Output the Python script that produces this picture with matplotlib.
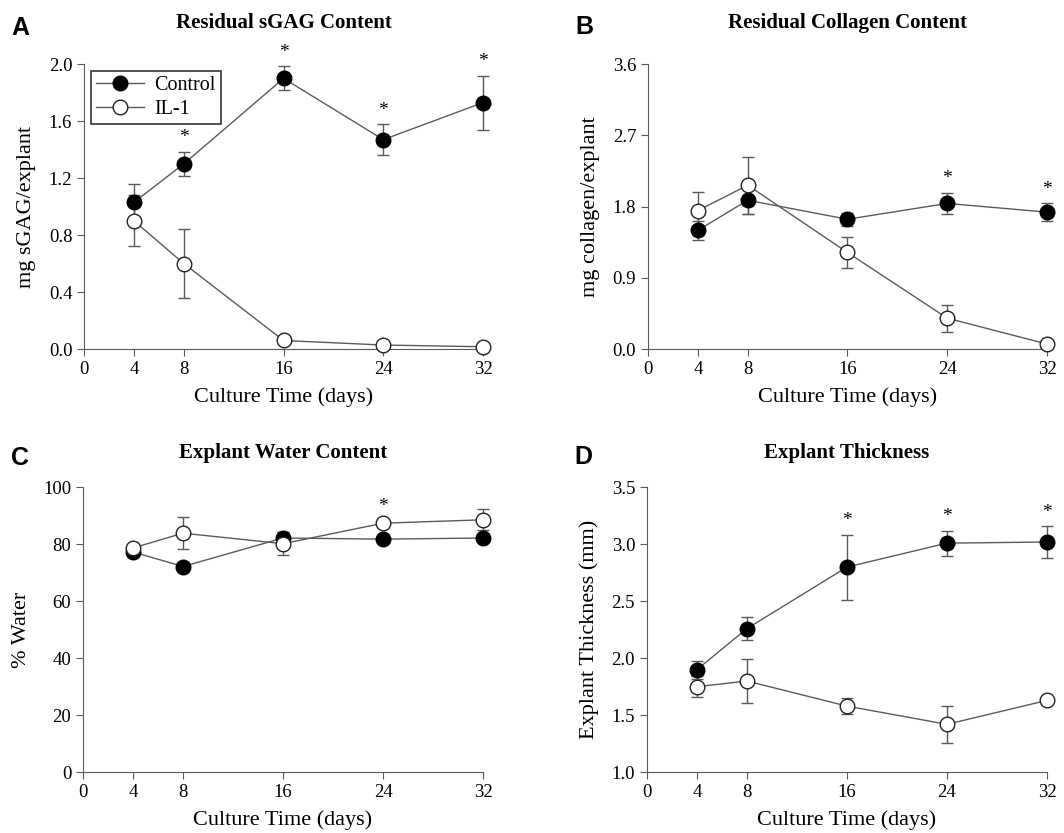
import numpy as np
import matplotlib.pyplot as plt

plt.rcParams['font.family'] = ['Liberation Serif', 'DejaVu Serif']

days = [4, 8, 16, 24, 32]

# A: residual sGAG (mg/explant)
sgag_ctl = [1.03, 1.30, 1.90, 1.47, 1.73]
sgag_ctl_err = [0.13, 0.085, 0.085, 0.11, 0.19]
sgag_il1 = [0.90, 0.60, 0.06, 0.028, 0.016]
sgag_il1_err = [0.18, 0.24, 0.01, 0.005, 0.005]
sgag_star = [8, 16, 24, 32]

# B: residual collagen (mg/explant)
coll_ctl = [1.50, 1.88, 1.64, 1.84, 1.73]
coll_ctl_err = [0.12, 0.18, 0.08, 0.135, 0.11]
coll_il1 = [1.75, 2.07, 1.22, 0.39, 0.063]
coll_il1_err = [0.24, 0.36, 0.20, 0.17, 0.01]
coll_star = [24, 32]

# C: water content (%)
water_ctl = [77.3, 72.2, 82.2, 81.8, 82.2]
water_ctl_err = [1.0, 1.5, 2.0, 1.0, 1.0]
water_il1 = [78.7, 83.9, 80.2, 87.4, 88.6]
water_il1_err = [1.0, 5.6, 4.0, 1.0, 3.7]
water_star = [24]

# D: thickness (mm)
thick_ctl = [1.90, 2.26, 2.80, 3.01, 3.02]
thick_ctl_err = [0.08, 0.10, 0.285, 0.11, 0.14]
thick_il1 = [1.75, 1.80, 1.58, 1.42, 1.63]
thick_il1_err = [0.09, 0.19, 0.07, 0.165, 0.01]
thick_star = [16, 24, 32]

panels = [
    ('A', 'Residual sGAG Content', 'mg sGAG/explant', sgag_ctl, sgag_ctl_err,
     sgag_il1, sgag_il1_err, sgag_star, (0, 2.0), [0, 0.4, 0.8, 1.2, 1.6, 2.0], '%.1f',
     [0.079, 0.581, 0.375, 0.342], 0.972, 0.966),
    ('B', 'Residual Collagen Content', 'mg collagen/explant', coll_ctl, coll_ctl_err,
     coll_il1, coll_il1_err, coll_star, (0, 3.6), [0, 0.9, 1.8, 2.7, 3.6], '%.1f',
     [0.609, 0.581, 0.375, 0.342], 0.972, 0.967),
    ('C', 'Explant Water Content', '% Water', water_ctl, water_ctl_err,
     water_il1, water_il1_err, water_star, (0, 100), [0, 20, 40, 60, 80, 100], '%d',
     [0.078, 0.073, 0.376, 0.342], 0.456, 0.450),
    ('D', 'Explant Thickness', 'Explant Thickness (mm)', thick_ctl, thick_ctl_err,
     thick_il1, thick_il1_err, thick_star, (1.0, 3.5), [1.0, 1.5, 2.0, 2.5, 3.0, 3.5], '%.1f',
     [0.608, 0.073, 0.376, 0.342], 0.456, 0.451),
]

fig = plt.figure(figsize=(10.64, 8.33), dpi=100)
line_c = '#5a5a5a'

for letter, title, ylab, ctl, ctl_e, il, il_e, stars, ylim, yt, fmt, pos, ty, ly in panels:
    ax = fig.add_axes(pos)
    for y, e in [(ctl, ctl_e), (il, il_e)]:
        eb = ax.errorbar(days, y, yerr=e, fmt='none', ecolor=line_c, elinewidth=1,
                         capsize=4, capthick=1, zorder=2)
        for art in eb.get_children():
            art.set_clip_on(False)
    ax.plot(days, ctl, color=line_c, lw=1, marker='o', ms=10.5, mfc='black',
            mec='black', label='Control', zorder=3, clip_on=False)
    ax.plot(days, il, color=line_c, lw=1, marker='o', ms=10.5, mfc='white',
            mec='#222222', mew=1, label='IL-1', zorder=3, clip_on=False)
    for s in stars:
        i = days.index(s)
        top = max(ctl[i] + ctl_e[i], il[i] + il_e[i])
        ax.annotate('*', (s, top), xytext=(0, 10), textcoords='offset points',
                    ha='center', va='center', fontsize=14, annotation_clip=False)
    ax.set_xlim(0, 32)
    ax.set_ylim(*ylim)
    ax.set_xticks([0, 4, 8, 16, 24, 32])
    ax.set_yticks(yt)
    ax.set_yticklabels([fmt % v for v in yt])
    for sp in ['top', 'right']:
        ax.spines[sp].set_visible(False)
    for sp in ['left', 'bottom']:
        ax.spines[sp].set_color(line_c)
    ax.tick_params(direction='out', length=5, color=line_c, labelsize=13.5)
    ax.set_xlabel('Culture Time (days)', fontsize=16, labelpad=7)
    ax.set_ylabel(ylab, fontsize=16, labelpad=9)
    fig.text(pos[0] + pos[2] / 2, ty, title, fontsize=15, fontweight='bold',
             ha='center', va='center')
    fig.text(pos[0] - 0.068, ly, letter, fontsize=18,
             fontweight='bold', family='Liberation Sans', ha='left', va='center')
    if letter == 'A':
        leg = ax.legend(loc='upper left', fontsize=14.5, frameon=True, fancybox=False,
                        edgecolor='black', borderaxespad=0.35, handlelength=2.4,
                        handletextpad=0.5, borderpad=0.25, labelspacing=0.25)
        leg.get_frame().set_linewidth(1.2)

fig.savefig('out.png', dpi=100)
